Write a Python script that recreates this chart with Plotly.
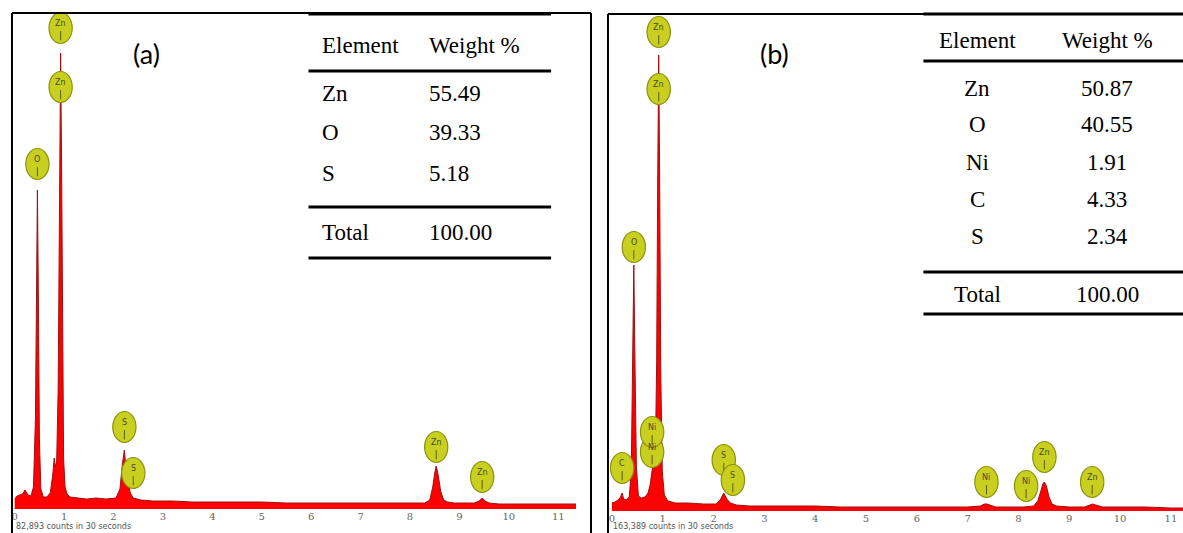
import plotly.graph_objects as go

W, H = 1183, 533

# ---------------- data ----------------
energy_a = [0.00, 0.05, 0.10, 0.16, 0.21, 0.27, 0.33, 0.38, 0.42, 0.44, 0.46, 0.48, 0.50, 0.53,
            0.58, 0.65, 0.72, 0.77, 0.80, 0.82, 0.85, 0.88, 0.91, 0.93, 0.95, 0.97, 0.99, 1.02,
            1.06, 1.12, 1.25, 1.45, 1.65, 1.85, 2.05, 2.13, 2.18, 2.22, 2.26, 2.30, 2.34, 2.40,
            2.55, 2.8, 3.2, 3.6, 4.0, 4.5, 5.0, 5.5, 6.0, 6.5, 7.0, 7.5, 8.0, 8.3, 8.40, 8.46,
            8.50, 8.53, 8.57, 8.62, 8.68, 8.76, 8.9, 9.1, 9.3, 9.40, 9.46, 9.52, 9.60, 9.8,
            10.2, 10.6, 11.0, 11.36]
counts_a = [10, 13, 14, 15, 19, 14, 13, 22, 90, 230, 319, 210, 70, 20,
            12, 12, 16, 34, 51, 42, 48, 120, 320, 456, 340, 150, 50, 22,
            15, 12, 11, 10, 11, 10, 11, 20, 45, 59, 36, 24, 16, 11,
            9, 8, 8, 7, 7, 7, 7, 6, 6, 6, 6, 6, 6, 6, 9, 22,
            36, 43, 34, 18, 9, 7, 6, 6, 6, 8, 11, 8, 6, 5,
            5, 5, 5, 5]

energy_b = [0.00, 0.06, 0.12, 0.17, 0.20, 0.23, 0.28, 0.34, 0.38, 0.41, 0.43, 0.45, 0.48, 0.52,
            0.58, 0.65, 0.71, 0.75, 0.78, 0.81, 0.85, 0.88, 0.90, 0.92, 0.94, 0.96, 0.99, 1.03,
            1.10, 1.25, 1.5, 1.8, 2.05, 2.13, 2.20, 2.26, 2.33, 2.45, 2.7, 3.0, 3.5, 4.0,
            4.5, 5.0, 5.5, 6.0, 6.5, 7.0, 7.25, 7.33, 7.38, 7.44, 7.55, 7.8, 8.1, 8.3,
            8.38, 8.44, 8.48, 8.51, 8.55, 8.60, 8.66, 8.75, 9.0, 9.3, 9.40, 9.46, 9.52, 9.65,
            10.0, 10.5, 11.0, 11.24]
counts_b = [8, 9, 11, 14, 18, 12, 11, 14, 40, 170, 246, 160, 45, 15,
            13, 14, 18, 26, 40, 48, 42, 150, 330, 456, 320, 140, 40, 16,
            10, 8, 8, 7, 7, 11, 18, 12, 8, 6, 5, 5, 5, 5,
            4, 4, 4, 4, 4, 4, 5, 7, 7, 6, 4, 4, 4, 5,
            10, 20, 27, 29, 25, 14, 7, 5, 4, 4, 6, 7, 6, 4,
            4, 4, 3, 3]

tick_keV = list(range(0, 12))
tick_text = [str(t) for t in tick_keV]

peak_names_a = ["Zn", "Zn", "O", "S", "S", "Zn", "Zn"]
peak_keV_a = [0.93, 0.93, 0.46, 2.22, 2.40, 8.53, 9.46]

peak_names_b = ["Zn", "Zn", "O", "C", "Ni", "Ni", "S", "S", "Ni", "Ni", "Zn", "Zn"]
peak_keV_b = [0.92, 0.92, 0.43, 0.20, 0.79, 0.79, 2.20, 2.38, 7.37, 8.15, 8.51, 9.45]

elements_a = ["Zn", "O", "S"]
weights_a = ["55.49", "39.33", "5.18"]
total_a = "100.00"

elements_b = ["Zn", "O", "Ni", "C", "S"]
weights_b = ["50.87", "40.55", "1.91", "4.33", "2.34"]
total_b = "100.00"

counts_note_a = "82,893 counts in 30 seconds"
counts_note_b = "163,389 counts in 30 seconds"

# ---------------- layout helpers (positions / styles) ----------------
label_height_a = [481, 422, 345, 82, 36, 62, 32]
label_height_b = [479, 422, 264, 43, 59, 79, 51, 31, 29, 25, 54, 29]


def px(x):
    return x / W


def py(y):
    return 1 - y / H


RED = "#FF0000"
EDGE = "#A01010"
BADGE_FILL = "#C8CF1E"
BADGE_LINE = "#8C9210"

fig = go.Figure()
fig.add_trace(go.Scatter(x=energy_a, y=counts_a, mode="lines", fill="tozeroy",
                         fillcolor=RED, line=dict(color=EDGE, width=1),
                         xaxis="x", yaxis="y", hoverinfo="skip", showlegend=False))
fig.add_trace(go.Scatter(x=energy_b, y=counts_b, mode="lines", fill="tozeroy",
                         fillcolor=RED, line=dict(color=EDGE, width=1),
                         xaxis="x2", yaxis="y2", hoverinfo="skip", showlegend=False))

shapes = []
annotations = []


def badges(names, energies, heights, xr, yr, w_keV, h_units):
    for name, e, yc in zip(names, energies, heights):
        shapes.append(dict(type="circle", xref=xr, yref=yr,
                           x0=e - w_keV / 2, x1=e + w_keV / 2,
                           y0=yc - h_units / 2, y1=yc + h_units / 2,
                           fillcolor=BADGE_FILL, line=dict(color=BADGE_LINE, width=1.2),
                           layer="above"))
        shapes.append(dict(type="line", xref=xr, yref=yr, x0=e, x1=e,
                           y0=yc - h_units * 0.40, y1=yc - h_units * 0.10,
                           line=dict(color="#5a5a20", width=1), layer="above"))
        annotations.append(dict(x=e, y=yc + h_units * 0.14, xref=xr, yref=yr,
                                text=name, showarrow=False,
                                font=dict(size=8, color="#4a4a20", family="DejaVu Sans")))


badges(peak_names_a, peak_keV_a, label_height_a, "x", "y", 0.47, 31)
badges(peak_names_b, peak_keV_b, label_height_b, "x2", "y2", 0.46, 31)


def pline(x0, y0, x1, y1, width):
    shapes.append(dict(type="line", xref="paper", yref="paper",
                       x0=px(x0), y0=py(y0), x1=px(x1), y1=py(y1),
                       line=dict(color="black", width=width), layer="above"))


# panel frames
pline(10, 13, 10, 534, 2)
pline(10, 13, 590, 13, 2)
pline(590, 13, 590, 534, 2)
pline(607, 14, 607, 534, 2)
pline(607, 14, 1183, 14, 2)

# table (a) rules
for yy in [14, 71, 207, 258]:
    pline(307, yy, 550, yy, 3)
# table (b) rules
for yy in [14, 61, 272, 314]:
    pline(923, yy, 1183, yy, 3)

SERIF = dict(family="Liberation Serif", size=23, color="black")


def ptext(x, y, text, font, xanchor="left"):
    annotations.append(dict(x=px(x), y=py(y), xref="paper", yref="paper", text=text,
                            showarrow=False, xanchor=xanchor, yanchor="middle", font=font))


# table (a)
ptext(319, 46, "Element", SERIF)
ptext(426, 46, "Weight %", SERIF)
rows_y_a = [94, 133, 173]
for el, wt, yy in zip(elements_a, weights_a, rows_y_a):
    ptext(319, yy, el, SERIF)
    ptext(426, yy, wt, SERIF)
ptext(319, 232, "Total", SERIF)
ptext(426, 232, total_a, SERIF)

# table (b)
ptext(977, 40, "Element", SERIF, "center")
ptext(1107, 40, "Weight %", SERIF, "center")
rows_y_b = [88, 125, 162, 199, 236]
for el, wt, yy in zip(elements_b, weights_b, rows_y_b):
    ptext(977, yy, el, SERIF, "center")
    ptext(1107, yy, wt, SERIF, "center")
ptext(977, 294, "Total", SERIF, "center")
ptext(1107, 294, total_b, SERIF, "center")

# panel letters
LETTER = dict(family="Lato", size=27, color="black")
ptext(145, 53, "(a)", LETTER, "center")
ptext(774, 54, "(b)", LETTER, "center")

# counts notes
NOTE = dict(family="DejaVu Sans", size=8, color="#555555")
ptext(12, 526, counts_note_a, NOTE)
ptext(610, 526, counts_note_b, NOTE)

TICKFONT = dict(family="DejaVu Serif", size=10, color="#666666")

fig.update_layout(
    width=W, height=H,
    margin=dict(l=0, r=0, t=0, b=0),
    paper_bgcolor="white", plot_bgcolor="white",
    showlegend=False,
    shapes=shapes, annotations=annotations,
    xaxis=dict(domain=[px(12), px(575)], range=[(12 - 12.7) / 49.5, (575 - 12.7) / 49.5],
               tickvals=tick_keV, ticktext=tick_text, ticks="", showgrid=False,
               zeroline=False, showline=False, tickfont=TICKFONT, anchor="y"),
    yaxis=dict(domain=[py(509), py(13)], range=[0, 496], visible=False, anchor="x"),
    xaxis2=dict(domain=[px(609), 1.0], range=[(609 - 611) / 50.9, (1183 - 611) / 50.9],
                tickvals=tick_keV, ticktext=tick_text, ticks="", showgrid=False,
                zeroline=False, showline=False, tickfont=TICKFONT, anchor="y2"),
    yaxis2=dict(domain=[py(511), py(14)], range=[0, 497], visible=False, anchor="x2"),
)

fig.write_html("out.html")
